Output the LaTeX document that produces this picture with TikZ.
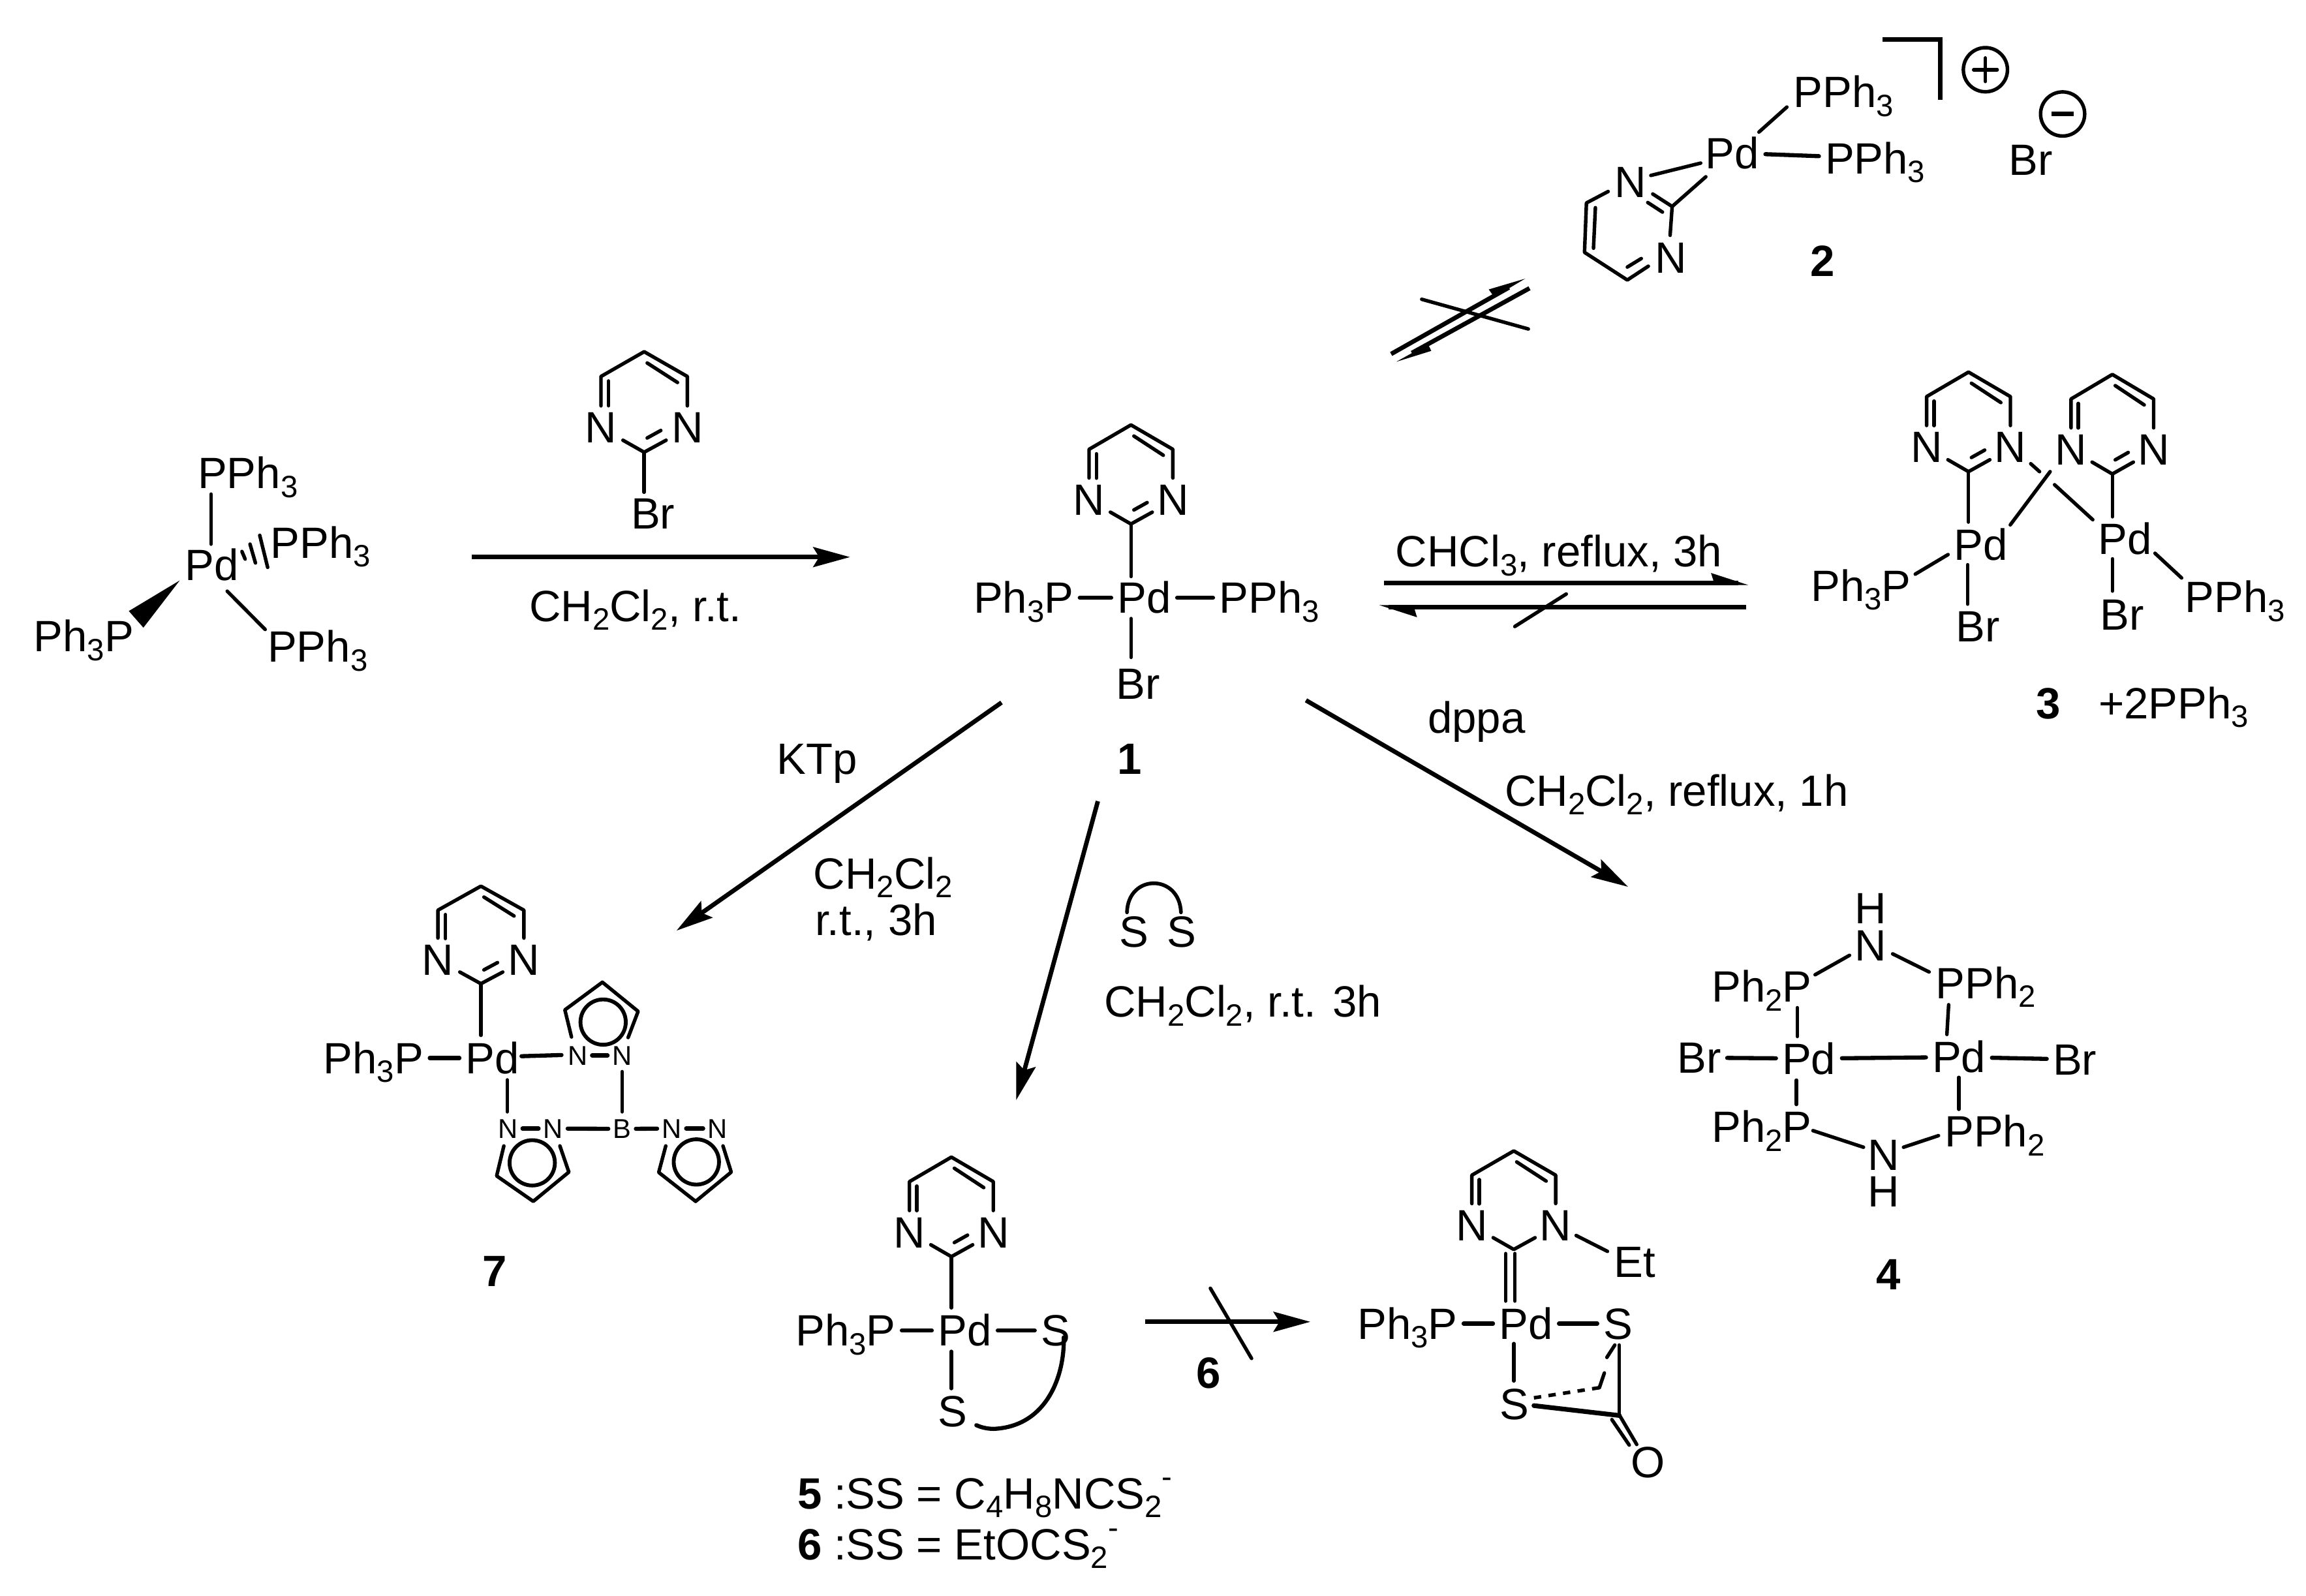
\documentclass[tikz,border=0pt]{standalone}
\usepackage{fontspec}
\setmainfont{Liberation Sans}
\usetikzlibrary{arrows.meta}
\newcommand\sbs[1]{\raisebox{-6pt}{\fontsize{21}{21}\selectfont #1}}
\newcommand\sps{\raisebox{14.5pt}{\fontsize{21}{21}\selectfont -}}
\tikzset{
  bond/.style={line width=2.4pt,line cap=round,line join=round},
  hbond/.style={line width=2.8pt,line cap=round},
  rxn/.style={line width=3pt,-{Stealth[length=25pt,width=13.5pt,inset=4pt]}},
  atom/.style={font=\fontsize{29.8}{35}\selectfont,inner sep=4pt,text height=21pt,text depth=0pt},
  tiny/.style={font=\fontsize{18.5}{22}\selectfont,inner sep=3pt,text height=13pt,text depth=0pt},
  lbl/.style={font=\fontsize{29.8}{35}\selectfont,inner sep=0pt,text height=21pt,text depth=0pt},
  num/.style={font=\fontsize{29.8}{35}\selectfont\bfseries,inner sep=0pt,text height=21pt,text depth=0pt},
}
\newcommand\bnd[3][]{\coordinate (bA) at (#2);\coordinate (bB) at (#3);\draw[bond,#1] (bA) -- (bB);}
\newcommand\pyr[6][bond]{%
  \begin{scope}[shift={(#3,#4)},xscale=#5,yscale=#6]
    \node[atom] (#2-l) at (-28.5,-16.5) {N};
    \node[atom] (#2-r) at (28.5,-16.5) {N};
    \coordinate (#2-c) at (0,0);
    \coordinate (#2-t) at (0,-67);
    \coordinate (#2-ul) at (-28.5,-50.5);
    \coordinate (#2-ur) at (28.5,-50.5);
    \draw[bond] (#2-l.north) -- (#2-ul) -- (#2-t) -- (#2-ur) -- (#2-r.north);
    \draw[bond] (-14,-8) -- (#2-c) -- (14.5,-8);
    \draw[bond] (-23.5,-47.5) -- (-23.5,-31);
    \draw[bond] (2,-59.5) -- (22,-46.5);
    \draw[#1] (2,-9.5) -- (11,-14.5);
  \end{scope}}
\begin{document}
\begin{tikzpicture}[x=1pt,y=-1pt]
\useasboundingbox (0,0) rectangle (1568,1085);
\fill[white] (0,0) rectangle (1568,1085);

% Pd(PPh3)4
\node[atom] (p0) at (144,384) {Pd};
\node[atom] (p0a) at (168.5,321.6) {PPh\sbs{3}};
\node[atom] (p0b) at (218,369) {PPh\sbs{3}};
\node[atom] (p0c) at (57,432.6) {Ph\sbs{3}P};
\node[atom] (p0d) at (216,439.7) {PPh\sbs{3}};
\bnd{143.5,336}{143.5,370}
\bnd{154.5,402}{180.3,428}
\bnd{164.5,375}{166.7,380.2}
\bnd{170,370}{173.7,382.8}
\bnd{176.6,364}{182,385.8}
\fill (122.2,394.7) -- (87.6,415.5) -- (97.5,426.8) -- cycle;

% arrow 0 -> 1 with reagent
\coordinate (a1s) at (321,378.8);
\coordinate (a1e) at (578,378.8);
\draw[rxn] (a1s) -- (a1e);
\pyr{rb}{438}{307.5}{1.03}{1.02}
\node[atom] (rbBr) at (444,349.3) {Br};
\bnd{438,307.5}{438,334.7}
\node[lbl] (t1) at (432,412) {CH\sbs{2}Cl\sbs{2}, r.t.};

% 1
\pyr{m1}{769}{356.3}{1}{1.005}
\node[atom] (pd1) at (778,406.5) {Pd};
\node[atom] (ph1) at (696,406.5) {Ph\sbs{3}P};
\node[atom] (ph1b) at (863,406.5) {PPh\sbs{3}};
\node[atom] (br1) at (774,465) {Br};
\draw[hbond] (ph1) -- (pd1);
\draw[hbond] (pd1) -- (ph1b);
\bnd{769,356.3}{769,392}
\bnd{769,420.6}{769,447}
\node[num] (n1) at (768,516) {1};

% 2
\node[atom] (pd2) at (1178,104) {Pd};
\node[atom] (p2a) at (1253.6,62.5) {PPh\sbs{3}};
\node[atom] (p2b) at (1275,107.6) {PPh\sbs{3}};
\bnd{1215,72.8}{1196,89.8}
\draw[hbond] (pd2) -- (p2b);
\node[atom] (n2a) at (1108.7,123.7) {N};
\node[atom] (n2b) at (1136,175) {N};
\coordinate (c2) at (1137,140.4);
\coordinate (c4) at (1106.5,190.4);
\coordinate (c5) at (1077.4,171.6);
\coordinate (c6) at (1078.7,138);
\bnd{1156.4,110.9}{1122.5,119.3}
\bnd{1159.9,120.2}{1137,140.4}
\draw[bond] (1093.5,130.2) -- (c6) -- (c5) -- (c4) -- (1120.8,181);
\bnd{1084.8,141.2}{1083.5,168.8}
\bnd{1106.5,181.6}{1116,175.8}
\draw[bond] (1123.8,131.9) -- (c2) -- (1135.6,160);
\bnd{1120.4,137.7}{1130.4,144.2}
\draw[line width=3pt,line join=miter] (1280,26.7) -- (1319.2,26.7) -- (1319.2,68);
\node[draw,circle,line width=2.4pt,minimum size=30pt,inner sep=0pt] (plus) at (1350,47.4) {};
\draw[bond] (1342,47.4) -- (1358,47.4) (1350,39.4) -- (1350,55.4);
\node[draw,circle,line width=2.4pt,minimum size=30pt,inner sep=0pt] (minus) at (1402.5,77.5) {};
\draw[line width=3pt] (1395,77.5) -- (1410,77.5);
\node[atom] (br2) at (1381,108.5) {Br};
\node[num] (n2) at (1239.5,177.5) {2};

% blocked equilibrium
\coordinate (e1s) at (945.9,240.7);
\coordinate (e1e) at (1026,195.5);
\coordinate (e2s) at (1040,196);
\coordinate (e2e) at (960,240);
\draw[line width=3pt] (e1s) -- (e1e);
\draw[line width=3pt] (e2s) -- (e2e);
\fill (1037,189.5) -- (1012.3,196.8) -- (1016,202) -- cycle;
\fill (949.4,246) -- (973.2,238.6) -- (971,234) -- cycle;
\bnd{966.7,203.5}{1039.2,223.7}

% 3
\pyr{m3a}{1338.5}{320.7}{1}{1.01}
\pyr{m3b}{1436.3}{322.3}{.985}{1.01}
\node[atom] (pd3a) at (1347,370.5) {Pd};
\node[atom] (pd3b) at (1445,366.5) {Pd};
\node[atom] (ph3a) at (1265.4,398.2) {Ph\sbs{3}P};
\node[atom] (ph3b) at (1519.7,405.9) {PPh\sbs{3}};
\node[atom] (br3a) at (1345,425.7) {Br};
\node[atom] (br3b) at (1443,418) {Br};
\bnd{1338.5,320.7}{1338.5,355}
\bnd{1436.3,322.3}{1436.3,351.4}
\bnd{1324.6,377.1}{1302.3,390.4}
\bnd{1465.3,376.2}{1483.4,393}
\bnd{1337.9,384}{1337.9,410.8}
\bnd{1436.3,380}{1436.3,401.9}
\bnd{1380.8,315.3}{1386.8,320.7}
\bnd{1397,329.6}{1423,353.4}
\bnd{1394,320.7}{1366.9,356.9}
\node[lbl] (t3a) at (1393,478) {\bfseries 3};
\node[lbl] (t3b) at (1478,478) {+2PPh\sbs{3}};

% 1 <-> 3
\coordinate (q1s) at (941,396.3);
\coordinate (q1e) at (1182,396.3);
\coordinate (q2s) at (1187.5,413);
\coordinate (q2e) at (944,413);
\draw[line width=3pt] (q1s) -- (q1e);
\draw[line width=3pt] (q2s) -- (q2e);
\fill (1188.7,397.8) -- (1163.4,389.6) -- (1166,397.8) -- cycle;
\fill (938,411.5) -- (963.5,419.7) -- (961,411.5) -- cycle;
\bnd{1065,403.9}{1030,426}
\node[lbl] (t4) at (1060,375) {CHCl\sbs{3}, reflux, 3h};

% main arrows
\coordinate (a4s) at (888,476.2);
\coordinate (a4e) at (1107,603);
\draw[rxn] (a4s) -- (a4e);
\coordinate (a7s) at (681,477.7);
\coordinate (a7e) at (460,632.8);
\draw[rxn] (a7s) -- (a7e);
\coordinate (a5s) at (746.5,544.8);
\coordinate (a5e) at (691,748);
\draw[rxn] (a5s) -- (a5e);
\node[lbl] (t5) at (1004,488) {dppa};
\node[lbl] (t6) at (1140,537.5) {CH\sbs{2}Cl\sbs{2}, reflux, 1h};
\node[lbl] (t7) at (555.4,516) {KTp};
\node[lbl] (t8) at (600.4,594) {CH\sbs{2}Cl\sbs{2}};
\node[lbl] (t9) at (595.6,625.7) {r.t., 3h};
\node[lbl] (t10) at (845,681) {CH\sbs{2}Cl\sbs{2}, r.t. 3h};
\node[atom] (sa) at (771,633.5) {S};
\node[atom] (sb) at (803.5,633.5) {S};
\draw[line width=2.5pt,line cap=round] (766.3,620.4) .. controls (767,594) and (802,594) .. (803,620.4);

% 7
\pyr{m7}{327}{668.9}{1.025}{.99}
\node[atom] (pd7) at (334.8,719.4) {Pd};
\node[atom] (ph7) at (254,719.4) {Ph\sbs{3}P};
\draw[hbond] (ph7) -- (pd7);
\bnd{327,668.9}{327,704}
\node[tiny] (n7a) at (392.7,717.7) {N};
\node[tiny] (n7b) at (423,717.7) {N};
\node[tiny] (n7c) at (345.4,767.4) {N};
\node[tiny] (n7d) at (376.1,767.4) {N};
\node[tiny] (b7) at (423,767.6) {B};
\node[tiny] (n7e) at (456.7,767.4) {N};
\node[tiny] (n7f) at (488,767.4) {N};
\bnd[hbond]{354.6,718.2}{381.8,717.4}
\draw[hbond] (n7a) -- (n7b);
\draw[hbond] (n7c) -- (n7d);
\draw[hbond] (n7d) -- (b7);
\draw[hbond] (b7) -- (n7e);
\draw[hbond] (n7e) -- (n7f);
\bnd{423,728.7}{423,756}
\bnd{344.9,734.3}{344.9,756}
\draw[bond] (388.6,705.1) -- (384.1,686.7) -- (409.6,667.9) -- (433.9,687.7) -- (427.1,705.5);
\draw[line width=2.6pt] (410.1,695) circle (15.4);
\draw[bond] (342.6,779.2) -- (337.7,799.6) -- (362.6,816.9) -- (386.8,797) -- (380.7,779.2);
\draw[line width=2.6pt] (361.9,790.7) circle (15.4);
\draw[bond] (452.7,779.2) -- (447.9,797.2) -- (473,816.9) -- (497.2,797) -- (491.6,779.2);
\draw[line width=2.6pt] (473.5,790.1) circle (15.4);
\node[num] (n7) at (336.5,864) {7};

% 5
\pyr{m5}{646.9}{854.5}{1}{1.01}
\node[atom] (pd5) at (656,904.7) {Pd};
\node[atom] (ph5) at (575,904.7) {Ph\sbs{3}P};
\node[atom] (s5a) at (717.7,904.7) {S};
\node[atom] (s5b) at (647.7,959.5) {S};
\draw[hbond] (ph5) -- (pd5);
\draw[hbond] (pd5) -- (s5a);
\bnd{646.9,854.5}{646.9,889.3}
\bnd{646.9,918.9}{646.9,944.2}
\draw[line width=2.8pt,line cap=round] (723.3,909.4) .. controls (724,935) and (712,970) .. (675.7,971.6) .. controls (671,971.6) and (667,970.5) .. (663.9,969.1);
\node[anchor=west,lbl] (l5) at (542,1015.5) {\textbf{5} :SS = C\sbs{4}H\sbs{8}NCS\sbs{2}\sps};
\node[anchor=west,lbl] (l6) at (542,1050) {\textbf{6} :SS = EtOCS\sbs{2}\sps};

% 5 -> product
\coordinate (a6s) at (778.5,898.8);
\coordinate (a6e) at (891,898.8);
\draw[rxn] (a6s) -- (a6e);
\bnd{823,876}{851,923.7}
\node[num] (n6) at (821.7,933.3) {6};

% product
\pyr[draw=none]{m6}{1029.3}{849.6}{1}{1}
\node[atom] (pd6) at (1037.6,900) {Pd};
\node[atom] (ph6) at (957,900) {Ph\sbs{3}P};
\node[atom] (s6a) at (1100.2,900) {S};
\node[atom] (s6b) at (1029.7,954.8) {S};
\node[atom] (et6) at (1111.6,858) {Et};
\node[atom] (o6) at (1120.4,994) {O};
\draw[hbond] (ph6) -- (pd6);
\draw[hbond] (pd6) -- (s6a);
\bnd{1071.7,840.1}{1093,850.9}
\bnd{1023.8,852.4}{1023.8,884.7}
\bnd{1030.1,852.4}{1030.1,884.7}
\bnd{1029.3,913.6}{1029.3,939}
\bnd{1101,914.6}{1101,962}
\bnd{1098,914.6}{1092.6,923}
\draw[bond,line cap=butt,dash pattern=on 5pt off 5pt] (1043,950.5) -- (1087.5,943.6);
\bnd{1087.5,943.6}{1090.9,933.6}
\draw[line width=3.2pt,line cap=round] (1043,955.8) -- (1101,962.5);
\bnd{1101,962}{1112.9,982.2}
\bnd{1096,965.3}{1107.8,982.6}

% 4
\node[atom] (h4a) at (1272,617.4) {H};
\node[atom] (n4a) at (1272,642.6) {N};
\node[atom] (p4a) at (1197.9,670.9) {Ph\sbs{2}P};
\node[atom] (p4b) at (1350.4,668.5) {PPh\sbs{2}};
\node[atom] (pd4a) at (1230,719.8) {Pd};
\node[atom] (pd4b) at (1332,718.8) {Pd};
\node[atom] (br4a) at (1155.3,719.2) {Br};
\node[atom] (br4b) at (1410.8,720.4) {Br};
\node[atom] (p4c) at (1197.9,766.3) {Ph\sbs{2}P};
\node[atom] (p4d) at (1356.3,769.3) {PPh\sbs{2}};
\node[atom] (n4b) at (1280.9,785.1) {N};
\node[atom] (h4b) at (1280.9,810) {H};
\bnd{1234.2,662.8}{1257.6,649.6}
\bnd{1286.9,648.6}{1311.7,660.9}
\draw[hbond] (br4a) -- (pd4a);
\draw[hbond] (pd4a) -- (pd4b);
\draw[hbond] (pd4b) -- (br4b);
\bnd{1222.1,685.2}{1222.1,704.8}
\bnd{1325,683.2}{1323.8,703.4}
\bnd{1221.5,734.5}{1221.5,751}
\bnd{1331.9,732.6}{1331.9,754.3}
\bnd{1232.7,768.8}{1267.1,780.1}
\bnd{1294.3,780.1}{1318.1,772.2}
\node[num] (n4) at (1284,866.4) {4};
\end{tikzpicture}
\end{document}
